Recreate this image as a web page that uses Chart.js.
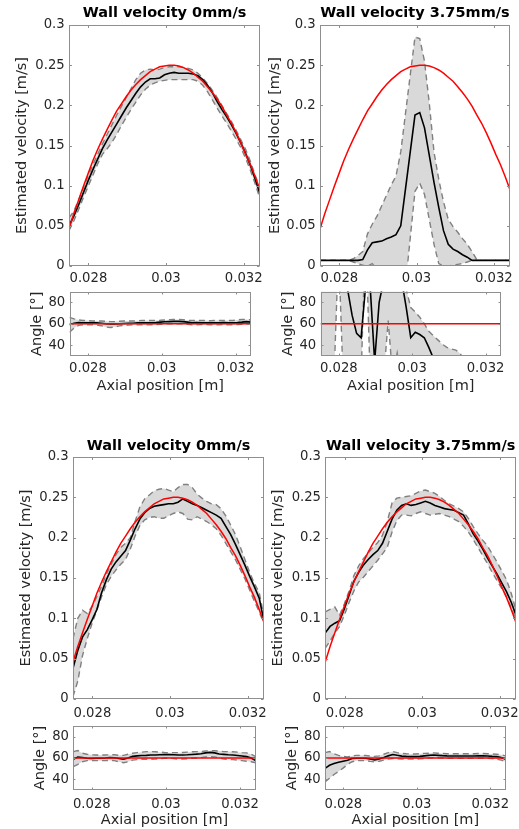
<!DOCTYPE html>
<html><head><meta charset="utf-8">
<script src="https://cdn.jsdelivr.net/npm/chart.js@4.4.1/dist/chart.umd.min.js"></script>
<style>
html,body{margin:0;padding:0;background:#fff;}
body{width:519px;height:829px;position:relative;overflow:hidden;}
canvas{position:absolute;}
</style></head><body>
<script>
// ---------- data ----------
const X_MIN = 0.0275, X_MAX = 0.03242;
const positions = [0.027500,0.027623,0.027746,0.027869,0.027992,0.028115,0.028238,0.028361,0.028484,0.028607,
0.028730,0.028853,0.028976,0.029099,0.029222,0.029345,0.029468,0.029591,0.029714,0.029837,
0.029960,0.030083,0.030206,0.030329,0.030452,0.030575,0.030698,0.030821,0.030944,0.031067,
0.031190,0.031313,0.031436,0.031559,0.031682,0.031805,0.031928,0.032051,0.032174,0.032297,0.032420];
const xTickValues = [0.028, 0.030, 0.032];
const xTickLabels = ['0.028', '0.03', '0.032'];
const velTickValues = [0, 0.05, 0.1, 0.15, 0.2, 0.25, 0.3];
const velTickLabels = ['0', '0.05', '0.1', '0.15', '0.2', '0.25', '0.3'];
const angleTickValues = [40, 60, 80];
const angleTickLabels = ['40', '60', '80'];
const panelTitles = ['Wall velocity 0mm/s', 'Wall velocity 3.75mm/s', 'Wall velocity 0mm/s', 'Wall velocity 3.75mm/s'];

const trueVelocity = [0.046,0.065,0.082,0.099,0.115,0.131,0.145,0.158,0.170,0.182,
0.193,0.202,0.211,0.219,0.226,0.232,0.237,0.242,0.245,0.248,
0.249,0.250,0.250,0.249,0.247,0.244,0.240,0.235,0.230,0.223,
0.216,0.208,0.199,0.188,0.178,0.166,0.153,0.139,0.126,0.111,0.095];
const trueAngle = [60,60,60,60,60,60,60,60,60,60,60,60,60,60,60,60,60,60,60,60,60,60,60,60,60,60,60,60,60,60,60,60,60,60,60,60,60,60,60,60,60];

// Panel A: top-left, wall velocity 0 mm/s
const aVelMean = [0.050,0.062,0.076,0.091,0.106,0.120,0.133,0.146,0.157,0.167,
0.177,0.187,0.197,0.206,0.215,0.223,0.229,0.233,0.233,0.234,
0.238,0.240,0.241,0.240,0.240,0.240,0.239,0.237,0.232,0.225,
0.216,0.205,0.195,0.186,0.176,0.165,0.153,0.140,0.125,0.108,0.090];
const aVelUpper = [0.060,0.068,0.082,0.097,0.112,0.126,0.139,0.152,0.164,0.176,
0.188,0.199,0.210,0.221,0.232,0.240,0.244,0.245,0.244,0.245,
0.247,0.248,0.248,0.248,0.247,0.246,0.244,0.240,0.234,0.227,
0.219,0.210,0.200,0.190,0.180,0.169,0.157,0.145,0.130,0.113,0.096];
const aVelLower = [0.044,0.056,0.070,0.085,0.099,0.113,0.127,0.139,0.146,0.154,
0.164,0.175,0.185,0.195,0.204,0.213,0.220,0.225,0.228,0.230,
0.231,0.232,0.232,0.232,0.232,0.232,0.232,0.230,0.225,0.217,
0.207,0.197,0.187,0.178,0.168,0.158,0.147,0.134,0.119,0.102,0.084];
const aAngMean = [59.0,60.5,61.2,61.0,61.0,61.0,60.8,60.5,60.0,59.8,
59.8,60.0,60.3,60.5,60.5,60.8,61.0,61.0,61.0,61.2,
61.5,61.8,62.0,62.2,62.2,62.0,61.5,61.0,61.2,61.0,
61.0,60.8,61.0,61.0,61.2,61.0,61.0,61.2,61.5,62.0,61.5];
const aAngUpper = [66.0,64.5,63.5,63.0,63.0,62.5,62.5,62.5,62.3,62.0,
62.0,62.3,62.5,62.5,62.5,62.8,63.0,63.0,63.0,63.0,
63.2,63.5,63.8,64.0,64.0,63.8,63.2,63.0,63.0,63.0,
63.0,62.8,63.0,63.0,63.0,63.0,63.0,63.5,64.0,64.0,63.5];
const aAngLower = [52.0,56.0,58.5,59.0,59.0,59.0,58.8,58.2,57.0,56.5,
57.0,58.0,58.5,58.8,59.0,59.0,59.0,59.0,59.0,59.2,
59.5,59.8,60.0,60.0,60.0,60.0,59.5,59.0,59.0,59.2,
59.2,59.0,59.0,59.0,59.2,59.0,59.0,59.2,59.5,60.0,59.5];

// Panel B: top-right, wall velocity 3.75 mm/s
const bVelMean = [0.007,0.007,0.007,0.007,0.007,0.007,0.007,0.007,0.007,0.008,
0.020,0.029,0.030,0.031,0.034,0.036,0.039,0.050,0.096,0.142,
0.188,0.191,0.172,0.138,0.104,0.073,0.044,0.027,0.021,0.018,
0.014,0.011,0.007,0.007,0.007,0.007,0.007,0.007,0.007,0.007,0.007];
const bVelUpper = [0.007,0.007,0.007,0.007,0.007,0.007,0.007,0.009,0.013,0.018,
0.040,0.052,0.062,0.075,0.088,0.101,0.112,0.142,0.190,0.238,
0.285,0.283,0.255,0.203,0.142,0.108,0.080,0.058,0.049,0.042,
0.034,0.027,0.018,0.008,0.007,0.007,0.007,0.007,0.007,0.007,0.007];
const bVelLower = [0.007,0.007,0.007,0.007,0.007,0.007,0.007,0.005,0.003,0.001,
0.000,0.003,-0.004,-0.015,-0.020,-0.020,-0.020,-0.020,-0.023,0.035,
0.093,0.103,0.089,0.058,0.027,0.003,0.000,0.000,0.001,0.002,
0.003,0.005,0.007,0.007,0.007,0.007,0.007,0.007,0.007,0.007,0.007];
const bAngMean = [120,120,120,120,120,110,92,68,51,47,
95,95,25,80,100,120,120,120,100,75,
47,52,50,47,38,28,22,18,15,15,
15,15,15,15,15,15,15,15,15,15,15];
const bAngUpper = [120,120,120,120,120,120,120,120,120,120,
120,120,120,120,120,120,120,120,120,92,
75,71,66,60,53,49,45,41,38,36.5,
35.5,32,25,20,20,20,20,20,20,20,20];
const bAngLower = [10,10,10,10,130,10,10,10,10,10,
150,10,10,10,10,63,10,33,10,10,
10,10,10,10,10,10,10,10,10,10,
10,10,10,10,10,10,10,10,10,10,10];

// Panel C: bottom-left, wall velocity 0 mm/s
const cVelMean = [0.038,0.060,0.077,0.086,0.098,0.111,0.132,0.148,0.161,0.170,
0.177,0.184,0.197,0.211,0.223,0.231,0.236,0.239,0.240,0.241,
0.242,0.242,0.244,0.248,0.245,0.242,0.240,0.237,0.234,0.231,
0.228,0.224,0.214,0.204,0.192,0.179,0.166,0.152,0.139,0.125,0.096];
const cVelUpper = [0.075,0.100,0.110,0.106,0.115,0.127,0.140,0.155,0.167,0.179,
0.188,0.193,0.200,0.220,0.238,0.248,0.253,0.258,0.260,0.261,
0.259,0.257,0.262,0.266,0.266,0.262,0.254,0.249,0.245,0.242,
0.241,0.236,0.227,0.216,0.204,0.189,0.173,0.157,0.143,0.132,0.102];
const cVelLower = [0.003,0.022,0.054,0.075,0.094,0.110,0.127,0.142,0.152,0.160,
0.167,0.173,0.186,0.202,0.215,0.222,0.225,0.226,0.224,0.224,
0.227,0.230,0.232,0.230,0.223,0.222,0.226,0.223,0.220,0.216,
0.211,0.203,0.193,0.183,0.173,0.161,0.149,0.135,0.121,0.108,0.093];
const cAngMean = [58.8,60.8,60.5,59.8,59.6,59.7,59.8,60.0,60.5,60.2,
59.5,58.8,60.0,61.5,62.0,62.3,62.5,62.8,62.8,63.0,
63.2,63.2,63.0,62.8,62.8,63.0,63.3,63.6,64.0,64.8,
65.3,64.8,63.8,63.4,63.0,62.8,62.3,61.8,61.3,60.0,57.5];
const cAngUpper = [66.0,67.0,64.5,63.5,63.0,62.8,62.8,62.8,63.0,63.0,
62.5,62.5,63.5,64.5,65.0,65.5,66.0,66.0,65.8,65.5,
65.2,65.0,65.0,65.0,65.2,65.5,65.8,66.0,66.0,66.5,
66.8,66.8,66.5,66.0,66.0,65.8,65.5,65.0,64.8,63.5,61.3];
const cAngLower = [51.9,54.0,56.5,57.5,57.5,57.5,57.5,57.5,57.8,57.5,
56.5,55.6,56.5,58.0,58.5,58.8,58.8,58.8,59.0,59.3,
59.7,59.7,59.5,59.0,59.0,59.3,59.7,60.0,60.3,61.0,
61.3,61.0,60.0,59.0,58.8,58.5,58.0,57.5,57.0,56.5,55.6];

// Panel D: bottom-right, wall velocity 3.75 mm/s
const dVelMean = [0.082,0.090,0.094,0.097,0.112,0.129,0.146,0.157,0.166,0.173,
0.179,0.184,0.193,0.208,0.223,0.234,0.240,0.242,0.240,0.241,
0.243,0.245,0.243,0.240,0.238,0.236,0.235,0.234,0.231,0.228,
0.217,0.205,0.196,0.186,0.175,0.165,0.155,0.144,0.133,0.120,0.104];
const dVelUpper = [0.108,0.111,0.114,0.104,0.118,0.134,0.153,0.165,0.174,0.181,
0.188,0.194,0.203,0.220,0.243,0.249,0.250,0.251,0.252,0.255,
0.258,0.259,0.257,0.255,0.251,0.246,0.242,0.239,0.236,0.232,
0.224,0.214,0.205,0.197,0.190,0.180,0.170,0.159,0.148,0.131,0.110];
const dVelLower = [0.063,0.072,0.082,0.090,0.104,0.120,0.134,0.145,0.151,0.158,
0.165,0.172,0.180,0.188,0.207,0.221,0.228,0.228,0.227,0.230,
0.232,0.230,0.228,0.229,0.230,0.228,0.226,0.223,0.220,0.214,
0.207,0.198,0.188,0.178,0.168,0.157,0.147,0.137,0.127,0.113,0.098];
const dAngMean = [50.3,53.2,54.8,56.0,57.0,57.8,59.5,59.8,59.7,59.7,
59.0,58.3,59.2,60.5,62.0,63.3,62.5,61.8,61.5,61.3,
61.3,61.5,62.0,62.5,62.8,62.5,62.2,62.0,61.9,61.9,
61.9,61.9,61.9,61.9,62.0,62.0,61.9,61.5,61.3,60.5,58.8];
const dAngUpper = [65.0,66.0,64.0,62.5,61.5,61.0,62.0,62.5,62.5,62.3,
61.8,61.5,62.0,63.5,65.0,66.0,65.0,64.3,64.0,63.8,
63.8,64.0,64.3,64.5,64.8,64.5,64.2,64.0,64.0,64.0,
64.0,64.0,64.0,64.0,64.2,64.2,64.0,63.8,63.5,63.0,62.0];
const dAngLower = [37.5,41.0,44.5,47.5,50.5,54.0,56.5,57.5,57.5,57.5,
56.8,56.3,57.0,58.0,59.0,59.5,59.2,59.0,59.0,59.0,
59.0,59.2,59.5,60.0,60.3,60.2,60.0,59.8,59.8,59.8,
59.8,59.8,59.8,59.8,59.8,59.8,59.8,59.5,59.0,58.0,56.5];

// ---------- styling ----------
const FILL = '#d9d9d9', DASH = '#808080', AXIS = '#8f8f8f', TEXT = '#262626';
Chart.defaults.font.family = "'DejaVu Sans', sans-serif";
Chart.defaults.color = TEXT;

const boxPlugin = {
  id: 'box',
  afterDraw(chart, args, opts) {
    const {ctx, chartArea: a} = chart;
    const xs = chart.scales.x, ys = chart.scales.y;
    ctx.save();
    ctx.strokeStyle = AXIS; ctx.lineWidth = 1;
    const L = Math.round(a.left) + 0.5, R = Math.round(a.right) - 0.5;
    const T = Math.round(a.top) + 0.5, B = Math.round(a.bottom) - 0.5;
    ctx.strokeRect(L, T, R - L, B - T);
    const tl = opts.tickLen || 2.5;
    ctx.beginPath();
    xs.ticks.forEach(t => {
      const px = Math.round(xs.getPixelForValue(t.value)) + 0.5;
      ctx.moveTo(px, B); ctx.lineTo(px, B - tl);
      ctx.moveTo(px, T); ctx.lineTo(px, T + tl);
    });
    ys.ticks.forEach(t => {
      const py = Math.round(ys.getPixelForValue(t.value)) + 0.5;
      ctx.moveTo(L, py); ctx.lineTo(L + tl, py);
      ctx.moveTo(R, py); ctx.lineTo(R - tl, py);
    });
    ctx.stroke();
    ctx.restore();
  }
};

function series(values, color, width, dash, fill) {
  return {
    data: positions.map((x, i) => ({x: x, y: values[i]})),
    borderColor: color, borderWidth: width, borderDash: dash || [],
    pointRadius: 0, tension: 0, fill: fill || false, backgroundColor: FILL
  };
}
function bandSets(mean, upper, lower, truth) {
  return [
    series(truth, '#ff0000', 1.5),
    series(mean, '#000000', 1.6),
    series(upper, DASH, 1.4, [6, 4], '+1'),
    series(lower, DASH, 1.4, [6, 4])
  ];
}

function makeChart(g, datasets, yMin, yMax, yTickValues, yTickLabels, yTitle) {
  const cv = document.createElement('canvas');
  cv.width = g.w; cv.height = g.h;
  cv.style.left = g.x + 'px'; cv.style.top = g.y + 'px';
  cv.style.width = g.w + 'px'; cv.style.height = g.h + 'px';
  document.body.appendChild(cv);
  return new Chart(cv, {
    type: 'line',
    data: {datasets: datasets},
    plugins: [boxPlugin],
    options: {
      responsive: false, animation: false, devicePixelRatio: 1, events: [],
      layout: {autoPadding: false, padding: {left: 0, top: g.padTop || 0, right: g.padRight, bottom: 0}},
      plugins: {
        legend: {display: false}, tooltip: {enabled: false},
        filler: {drawTime: 'beforeDatasetsDraw'},
        title: g.title ? {display: true, text: g.title, fullSize: false, color: '#000',
          font: {size: 14.5, weight: 'bold'}, padding: {top: g.tPadTop, bottom: g.tPadBottom}} : {display: false},
        box: {tickLen: g.tickLen}
      },
      scales: {
        x: {
          type: 'linear', position: 'bottom', min: X_MIN, max: X_MAX,
          afterBuildTicks: s => { s.ticks = xTickValues.map(v => ({value: v})); },
          afterFit: s => { s.height = g.B; s.paddingLeft = 0; s.paddingRight = 0; },
          grid: {display: false, drawTicks: false}, border: {display: false},
          ticks: {autoSkip: false, maxRotation: 0, minRotation: 0, padding: g.xTickPad,
            font: {size: 13.2}, color: TEXT, callback: (v, i) => xTickLabels[i]},
          title: {display: !!g.xTitle, text: 'Axial position [m]', font: {size: 14.5}, color: TEXT,
            padding: {top: 0, bottom: g.xTitlePad || 0}}
        },
        y: {
          type: 'linear', position: 'left', min: yMin, max: yMax,
          afterBuildTicks: s => { s.ticks = yTickValues.map(v => ({value: v})); },
          afterFit: s => { s.width = g.L; s.paddingTop = 0; s.paddingBottom = 0; },
          grid: {display: false, drawTicks: false}, border: {display: false},
          ticks: {autoSkip: false, padding: 4.3, font: {size: 13.2}, color: TEXT,
            callback: (v, i) => yTickLabels[i]},
          title: {display: true, text: yTitle, font: {size: 14.5}, color: TEXT,
            padding: {top: g.yTitlePad, bottom: 0}}
        }
      }
    }
  });
}

const VEL_T = 'Estimated velocity [m/s]', ANG_T = 'Angle [°]';
// Main velocity plots
makeChart({x:0, y:0, w:266, h:288, L:69, padRight:6, B:22, xTickPad:5.1, yTitlePad:13.3,
  title: panelTitles[0], tPadTop:4.3, tPadBottom:3.3, tickLen:2.5},
  bandSets(aVelMean, aVelUpper, aVelLower, trueVelocity), 0, 0.3, velTickValues, velTickLabels, VEL_T);
makeChart({x:262, y:0, w:257, h:288, L:58, padRight:9, B:22, xTickPad:5.1, yTitlePad:4.3,
  title: panelTitles[1], tPadTop:4.3, tPadBottom:3.3, tickLen:2.5},
  bandSets(bVelMean, bVelUpper, bVelLower, trueVelocity), 0, 0.3, velTickValues, velTickLabels, VEL_T);
makeChart({x:0, y:430, w:268, h:290, L:73, padRight:4, B:21, xTickPad:6.4, yTitlePad:18,
  title: panelTitles[2], tPadTop:7.8, tPadBottom:1.8, tickLen:2.5},
  bandSets(cVelMean, cVelUpper, cVelLower, trueVelocity), 0, 0.3, velTickValues, velTickLabels, VEL_T);
makeChart({x:266, y:430, w:253, h:290, L:59.3, padRight:3, B:21, xTickPad:6.4, yTitlePad:3.6,
  title: panelTitles[3], tPadTop:7.8, tPadBottom:1.8, tickLen:2.5},
  bandSets(dVelMean, dVelUpper, dVelLower, trueVelocity), 0, 0.3, velTickValues, velTickLabels, VEL_T);
// Angle plots
makeChart({x:0, y:288, w:258, h:112, L:69.5, padTop:3.5, padRight:7, B:44, xTickPad:4.4,
  xTitle:true, xTitlePad:4.8, yTitlePad:28.3, tickLen:2},
  bandSets(aAngMean, aAngUpper, aAngLower, trueAngle), 30, 90, angleTickValues, angleTickLabels, ANG_T);
makeChart({x:262, y:288, w:257, h:112, L:58.5, padTop:3.5, padRight:18, B:44, xTickPad:4.4,
  xTitle:true, xTitlePad:4.8, yTitlePad:17.6, tickLen:2},
  bandSets(bAngMean, bAngUpper, bAngLower, trueAngle), 30, 90, angleTickValues, angleTickLabels, ANG_T);
makeChart({x:0, y:720, w:262, h:109, L:73.3, padTop:6, padRight:6.3, B:39, xTickPad:7.1,
  xTitle:true, xTitlePad:0, yTitlePad:31.3, tickLen:2},
  bandSets(cAngMean, cAngUpper, cAngLower, trueAngle), 30, 90, angleTickValues, angleTickLabels, ANG_T);
makeChart({x:266, y:720, w:253, h:109, L:59, padTop:6, padRight:13.3, B:39, xTickPad:7.1,
  xTitle:true, xTitlePad:0, yTitlePad:17.6, tickLen:2},
  bandSets(dAngMean, dAngUpper, dAngLower, trueAngle), 30, 90, angleTickValues, angleTickLabels, ANG_T);
</script>
</body></html>
